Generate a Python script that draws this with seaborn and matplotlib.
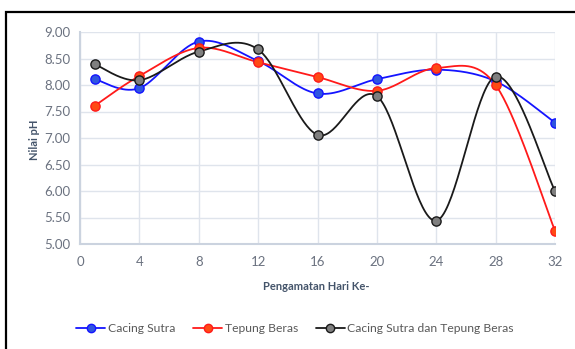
import numpy as np
import pandas as pd
import matplotlib
matplotlib.use("Agg")
import matplotlib.pyplot as plt
from matplotlib.patches import Rectangle
from matplotlib.lines import Line2D
import seaborn as sns

# Observation days and pH readings for each treatment
hari = [1, 4, 8, 12, 16, 20, 24, 28, 32]
cacing_sutra = [8.11, 7.94, 8.82, 8.45, 7.84, 8.11, 8.29, 8.07, 7.29]
tepung_beras = [7.61, 8.17, 8.70, 8.43, 8.15, 7.89, 8.32, 8.00, 5.25]
campuran = [8.39, 8.09, 8.63, 8.67, 7.06, 7.79, 5.44, 8.16, 6.00]

series_names = ["Cacing Sutra", "Tepung Beras", "Cacing Sutra dan Tepung Beras"]
series_values = [cacing_sutra, tepung_beras, campuran]
line_colors = ["#1414ff", "#ff1a1a", "#1a1a1a"]
marker_faces = ["#2f55e0", "#ff4a14", "#7f7f7f"]

x_ticks = [0, 4, 8, 12, 16, 20, 24, 28, 32]
y_ticks = [5.0, 5.5, 6.0, 6.5, 7.0, 7.5, 8.0, 8.5, 9.0]


def smooth_curve(xs, ys, n=40):
    """Catmull-Rom style Bezier smoothing through every point."""
    xs = np.asarray(xs, float)
    ys = np.asarray(ys, float)
    px = np.concatenate([[xs[0]], xs, [xs[-1]]])
    py = np.concatenate([[ys[0]], ys, [ys[-1]]])
    out_x, out_y = [], []
    t = np.linspace(0, 1, n)
    for i in range(1, len(px) - 2):
        p0 = np.array([px[i], py[i]])
        p3 = np.array([px[i + 1], py[i + 1]])
        c1 = p0 + (np.array([px[i + 1], py[i + 1]]) - np.array([px[i - 1], py[i - 1]])) / 6
        c2 = p3 - (np.array([px[i + 2], py[i + 2]]) - np.array([px[i], py[i]])) / 6
        b = ((1 - t) ** 3)[:, None] * p0 + (3 * (1 - t) ** 2 * t)[:, None] * c1 \
            + (3 * (1 - t) * t ** 2)[:, None] * c2 + (t ** 3)[:, None] * p3
        out_x.extend(b[:, 0])
        out_y.extend(b[:, 1])
    return np.array(out_x), np.array(out_y)


sns.set_theme(style="white")
plt.rcParams["font.family"] = ["Lato", "DejaVu Sans"]

fig = plt.figure(figsize=(5.75, 3.49), dpi=100)
W, H = 575, 349
ax = fig.add_axes([80 / W, 1 - 244 / H, 475 / W, 212 / H])

grid_c = "#dfe4ec"
for name, vals, lc, mf in zip(series_names, series_values, line_colors, marker_faces):
    sx, sy = smooth_curve(hari, vals)
    curve = pd.DataFrame({"hx": sx, "y": sy})
    sns.lineplot(data=curve, x="hx", y="y", sort=False, estimator=None,
                 color=lc, linewidth=1.3, ax=ax, zorder=3)
    pts = pd.DataFrame({"hari": hari, "ph": vals})
    sns.scatterplot(data=pts, x="hari", y="ph", s=44, color=mf,
                    edgecolor=lc, linewidth=1.0, ax=ax, zorder=4)

ax.set_xlim(0, 32)
ax.set_ylim(5.0, 9.0)
ax.set_xticks(x_ticks)
ax.set_yticks(y_ticks)
ax.set_xticklabels([str(v) for v in x_ticks])
ax.set_yticklabels([f"{v:.2f}" for v in y_ticks])
ax.tick_params(axis="both", colors="#6b7280", labelsize=9.5, length=0)
ax.tick_params(axis="x", pad=9)
ax.tick_params(axis="y", pad=7)
ax.grid(True, color=grid_c, linewidth=1.0, zorder=0)
ax.set_axisbelow(True)
for side in ["top", "right"]:
    ax.spines[side].set_visible(False)
for side in ["left", "bottom"]:
    ax.spines[side].set_color("#cbd3df")
    ax.spines[side].set_linewidth(1.5)
ax.set_xlabel("")
ax.set_ylabel("")

fig.text(35 / W, 1 - 140 / H, "Nilai pH", rotation=90, ha="center", va="center",
         fontsize=8, fontweight="bold", color="#44546a")
fig.text(316 / W, 1 - 287 / H, "Pengamatan Hari Ke-", ha="center", va="center",
         fontsize=8, fontweight="bold", color="#44546a")

handles = [Line2D([0], [0], color=lc, linewidth=1.3, marker="o", markersize=6,
                  markerfacecolor=mf, markeredgecolor=lc)
           for lc, mf in zip(line_colors, marker_faces)]
leg = fig.legend(handles, series_names, loc="center", bbox_to_anchor=(295 / W, 1 - 329 / H),
                 ncol=3, frameon=False, fontsize=8.7, handlelength=2.4, handletextpad=0.2,
                 columnspacing=1.5, labelcolor="#595959")

fig.patches.append(Rectangle((6 / W, -0.1), 1.2, 1 - 12 / H + 0.1, transform=fig.transFigure,
                             fill=False, edgecolor="black", linewidth=1.6))

fig.savefig("out.png", dpi=100)
